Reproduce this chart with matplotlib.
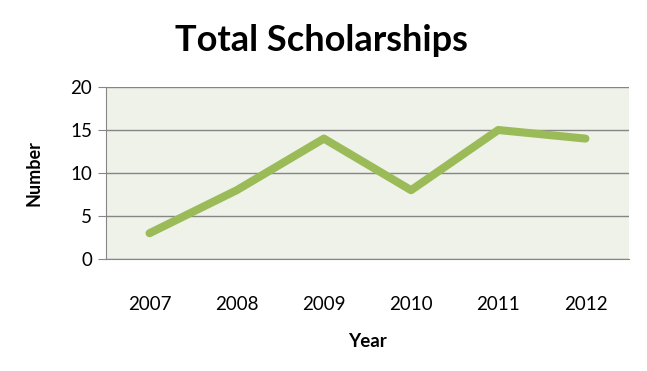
import matplotlib
matplotlib.use("Agg")
from matplotlib import pyplot as plt

years = ["2007", "2008", "2009", "2010", "2011", "2012"]
scholarships = [3, 8, 14, 8, 15, 14]

plt.rcParams['font.family'] = ['Lato', 'DejaVu Sans']

fig = plt.figure(figsize=(6.47, 3.71), dpi=100)
ax = fig.add_axes([0.1638, 0.3019, 0.8084, 0.4636])
ax.set_facecolor('#eef2e9')

x = list(range(len(years)))
ax.plot(x, scholarships, color='#9bbb59', linewidth=5.8, solid_capstyle='round', solid_joinstyle='round', zorder=3)

ax.set_xlim(-0.5, len(years) - 0.5)
ax.set_ylim(0, 20)
ax.set_yticks([0, 5, 10, 15, 20])
ax.set_xticks(x)
ax.set_xticklabels(years)
ax.grid(axis='y', color='#868686', linewidth=1.0)
ax.set_axisbelow(True)

for s in ['top', 'right']:
    ax.spines[s].set_visible(False)
ax.spines['left'].set_color('#868686')
ax.spines['bottom'].set_color('#868686')
ax.tick_params(axis='y', length=6, color='#868686', labelsize=13.5, pad=4)
ax.tick_params(axis='x', length=0, labelsize=13.5, pad=27)

ax.set_xlabel('Year', fontsize=13.5, fontweight='bold', labelpad=14)
ax.set_ylabel('Number', fontsize=13, fontweight='bold', labelpad=20)
fig.suptitle('Total Scholarships', x=0.497, y=0.935, fontsize=26, fontweight='bold')

fig.savefig('out.png', dpi=100, facecolor='white')
